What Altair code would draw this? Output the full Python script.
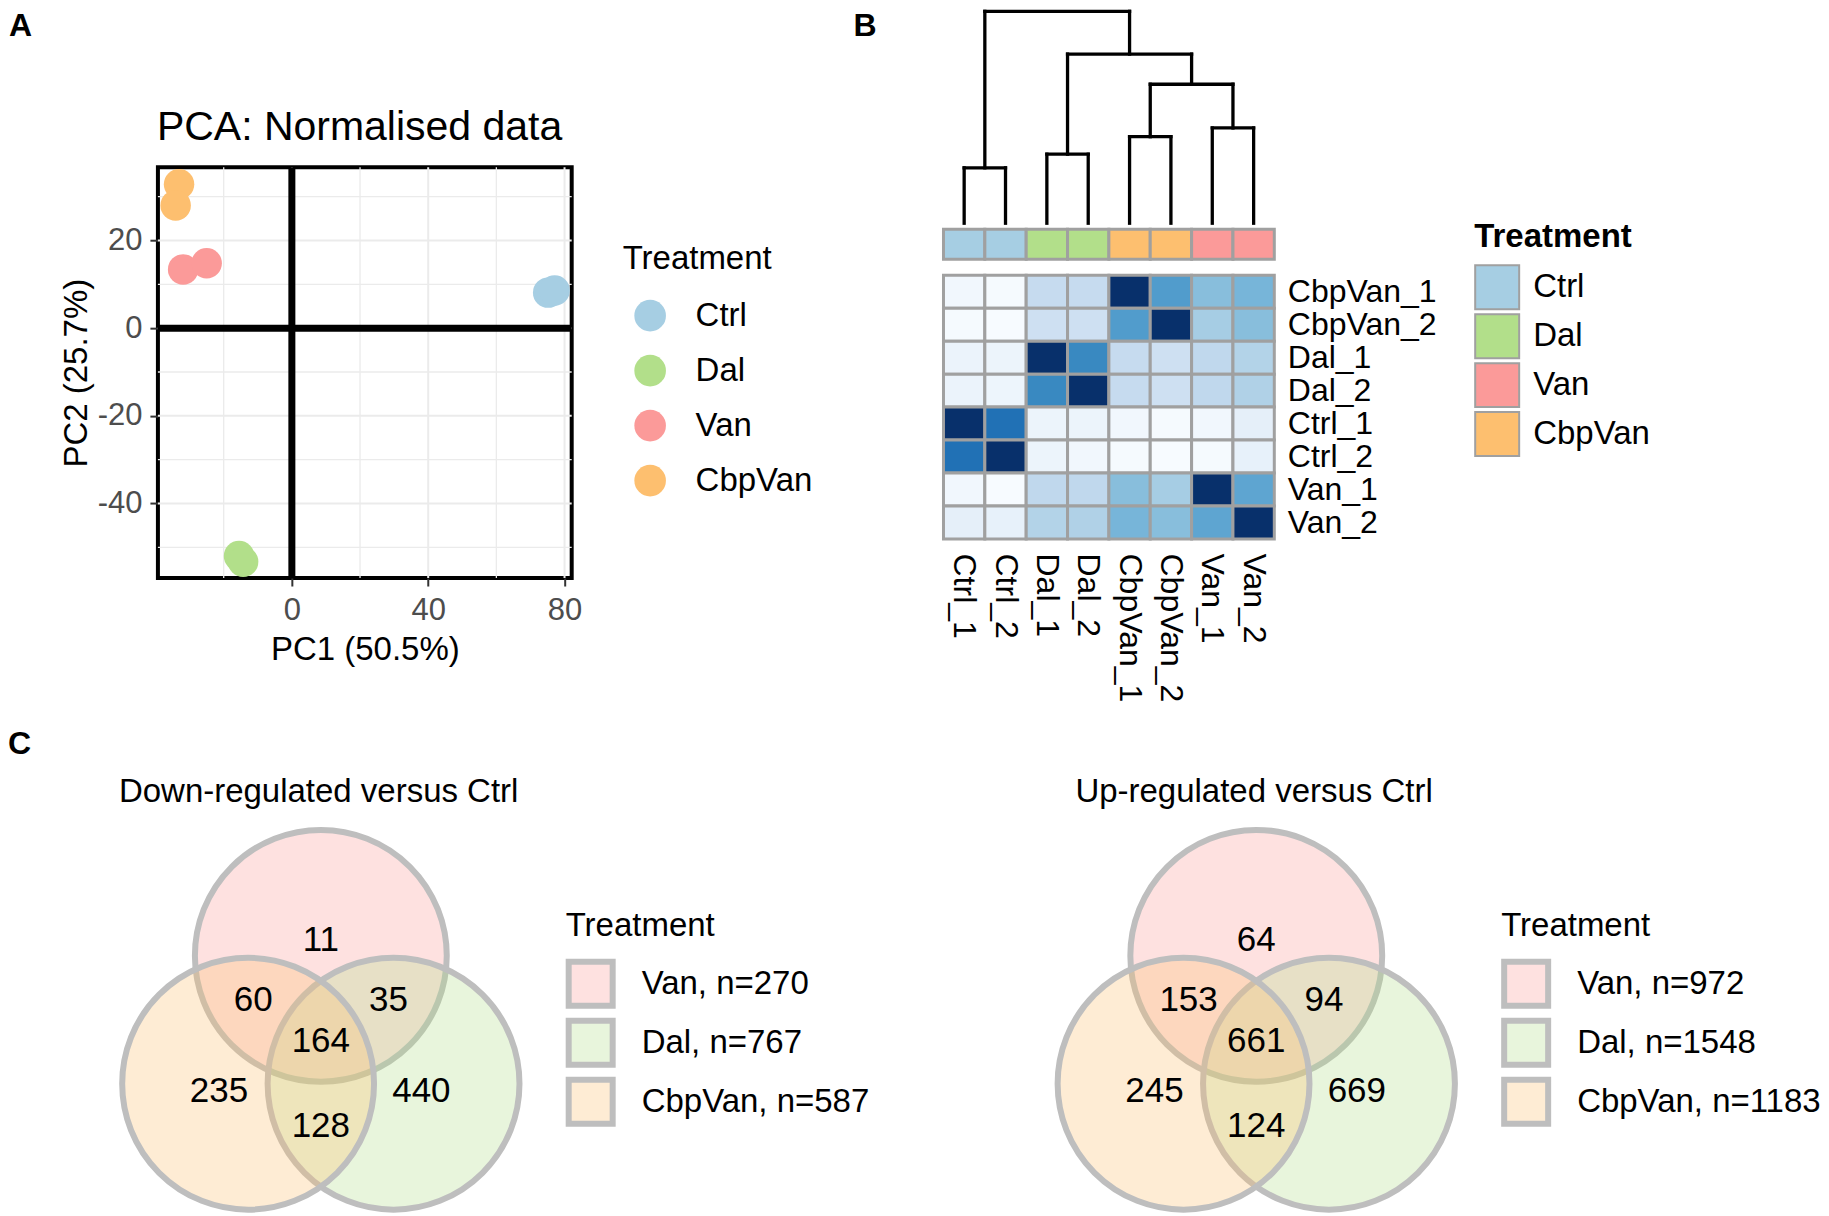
import altair as alt
import pandas as pd

FONT = "Liberation Sans, Arial, Helvetica, sans-serif"

# ------------------------------------------------------------------ data
treatments = ["Ctrl", "Dal", "Van", "CbpVan"]
treatment_colors = ["#A6CEE3", "#B2DF8A", "#FB9A99", "#FDBF6F"]

# Panel A : PCA scores
pca_samples = ["Ctrl_1", "Ctrl_2", "Dal_1", "Dal_2", "Van_1", "Van_2", "CbpVan_1", "CbpVan_2"]
pca_treatment = ["Ctrl", "Ctrl", "Dal", "Dal", "Van", "Van", "CbpVan", "CbpVan"]
pc1_scores = [75.2, 77.1, -15.5, -14.3, -31.9, -25.0, -33.1, -34.1]
pc2_scores = [8.1, 8.6, -52.0, -53.3, 13.4, 14.8, 32.8, 28.0]
pc1_ticks = [0, 40, 80]
pc2_ticks = [-40, -20, 0, 20]
pc1_minor = [-20, 20, 60]
pc2_minor = [-50, -30, -10, 10, 30]
origin = [0]

# Panel B : sample-sample similarity heatmap
hm_columns = ["Ctrl_1", "Ctrl_2", "Dal_1", "Dal_2", "CbpVan_1", "CbpVan_2", "Van_1", "Van_2"]
hm_column_treatment = ["Ctrl", "Ctrl", "Dal", "Dal", "CbpVan", "CbpVan", "Van", "Van"]
hm_rows = ["CbpVan_1", "CbpVan_2", "Dal_1", "Dal_2", "Ctrl_1", "Ctrl_2", "Van_1", "Van_2"]
hm_similarity = [
    [0.03, 0.01, 0.25, 0.25, 1.00, 0.58, 0.43, 0.47],
    [0.01, 0.00, 0.21, 0.21, 0.58, 1.00, 0.35, 0.43],
    [0.06, 0.055, 1.00, 0.66, 0.25, 0.21, 0.27, 0.31],
    [0.06, 0.05, 0.66, 1.00, 0.25, 0.21, 0.27, 0.32],
    [1.00, 0.75, 0.055, 0.055, 0.03, 0.01, 0.03, 0.09],
    [0.75, 1.00, 0.055, 0.03, 0.01, 0.00, 0.01, 0.08],
    [0.03, 0.00, 0.27, 0.27, 0.43, 0.35, 1.00, 0.54],
    [0.09, 0.08, 0.31, 0.32, 0.47, 0.43, 0.54, 1.00],
]
# hclust-style merges (negative = leaf index in hm_columns, 1-based; positive = earlier merge)
dendro_merges = [(-1, -2), (-3, -4), (-5, -6), (-7, -8), (3, 4), (2, 5), (1, 6)]
dendro_heights = [0.57, 0.71, 0.89, 0.98, 1.43, 1.74, 2.18]

# Panel C : Venn region counts
venn_sets = ["Van", "Dal", "CbpVan"]
venn_set_colors = ["#FB9A994D", "#B2DF8A4D", "#FDBF6F4D"]   # set colours at 30 % alpha
venn_regions = [("Van",), ("Van", "CbpVan"), ("Van", "Dal"), ("Van", "Dal", "CbpVan"),
                ("CbpVan",), ("Dal",), ("Dal", "CbpVan")]
down_counts = [11, 60, 35, 164, 235, 440, 128]
up_counts = [64, 153, 94, 661, 245, 669, 124]

# ------------------------------------------------------------------ layout template for a 3-set Venn
VENN_CENTER = {"Van": (0.0, 0.661), "Dal": (0.564, -0.331), "CbpVan": (-0.564, -0.331)}
VENN_LABEL = {("Van",): (0.0, 0.785), ("Van", "CbpVan"): (-0.525, 0.32), ("Van", "Dal"): (0.525, 0.32),
              ("Van", "Dal", "CbpVan"): (0.0, 0.0), ("CbpVan",): (-0.79, -0.39), ("Dal",): (0.78, -0.39),
              ("Dal", "CbpVan"): (0.0, -0.655)}
VENN_PX = 129.0
VENN_YDOM = [-1.331, 1.661]


def spacer(w, h):
    return alt.Chart(pd.DataFrame({"s": [0]})).mark_point(opacity=0, size=1).encode(
        x=alt.value(0), y=alt.value(0)).properties(width=w, height=h)


def letter(t, x, y):
    return alt.Chart(pd.DataFrame({"t": [t]})).mark_text(
        font=FONT, fontSize=32, fontWeight="bold", align="left", baseline="top", color="black"
    ).encode(text="t:N", x=alt.value(x), y=alt.value(y))


# ------------------------------------------------------------------ Panel A
xs = alt.Scale(domain=[-39.3, 82.1], nice=False, zero=False)
ys = alt.Scale(domain=[-57.0, 36.7], nice=False, zero=False)
axis_common = dict(domain=False, grid=False, ticks=True, tickSize=8, tickWidth=2, tickColor="#333333",
                   labelColor="#4D4D4D", labelFont=FONT, labelFontSize=31, titleFont=FONT,
                   titleFontSize=33, titleFontWeight="normal", titleColor="black",
                   labelExpr="'' + datum.value")
ax_x = alt.Axis(values=pc1_ticks, labelPadding=10, title="PC1 (50.5%)", titlePadding=8, **axis_common)
ax_y = alt.Axis(values=pc2_ticks, labelPadding=8, title="PC2 (25.7%)", titlePadding=4, **axis_common)


def enc_x(f):
    return alt.X(f, type="quantitative", scale=xs, axis=ax_x)


def enc_y(f):
    return alt.Y(f, type="quantitative", scale=ys, axis=ax_y)


def vrules(vals, color, width):
    return alt.Chart(pd.DataFrame({"pc1": vals})).mark_rule(color=color, strokeWidth=width).encode(x=enc_x("pc1"))


def hrules(vals, color, width):
    return alt.Chart(pd.DataFrame({"pc2": vals})).mark_rule(color=color, strokeWidth=width).encode(y=enc_y("pc2"))


pca_df = pd.DataFrame({"sample": pca_samples, "treatment": pca_treatment, "pc1": pc1_scores, "pc2": pc2_scores})
pca_points = alt.Chart(pca_df).mark_circle(size=930, opacity=1).encode(
    x=enc_x("pc1"), y=enc_y("pc2"),
    color=alt.Color("treatment:N", scale=alt.Scale(domain=treatments, range=treatment_colors),
                    legend=alt.Legend(title="Treatment", orient="none", legendX=465, legendY=76, padding=0,
                                      titleFont=FONT, titleFontSize=33, titleFontWeight="normal",
                                      titleColor="black", labelFont=FONT, labelFontSize=33,
                                      labelColor="black", symbolType="circle", symbolSize=1000,
                                      symbolStrokeWidth=0, rowPadding=21, titlePadding=23,
                                      symbolOffset=11, labelOffset=29, labelLimit=400)))

pca = alt.layer(
    vrules(pc1_minor, "#EBEBEB", 1.3), vrules(pc1_ticks, "#EBEBEB", 2),
    hrules(pc2_minor, "#EBEBEB", 1.3), hrules(pc2_ticks, "#EBEBEB", 2),
    vrules(origin, "black", 7), hrules(origin, "black", 7),
    pca_points,
).properties(
    width=414, height=411,
    title=alt.TitleParams("PCA: Normalised data", anchor="start", frame="group", font=FONT, fontSize=41,
                          fontWeight="normal", color="black", offset=15, dx=-1),
    view=alt.ViewBackground(stroke="black", strokeWidth=4),
)

# ------------------------------------------------------------------ Panel B
HM_W = 331
blues9 = ["#f7fbff", "#deebf7", "#c6dbef", "#9ecae1", "#6baed6", "#4292c6", "#2171b5", "#08519c", "#08306b"]
blue_stops = [i / 8 for i in range(9)]

hm_records = [{"row": r, "col": c, "value": hm_similarity[i][j]}
              for i, r in enumerate(hm_rows) for j, c in enumerate(hm_columns)]
col_scale = alt.Scale(domain=hm_columns, paddingInner=0, paddingOuter=0)
heat = alt.Chart(pd.DataFrame(hm_records)).mark_rect(stroke="#A0A0A0", strokeWidth=3).encode(
    x=alt.X("col:N", scale=col_scale,
            axis=alt.Axis(orient="bottom", title=None, labelAngle=90, labelAlign="left", labelBaseline="middle",
                          labelFont=FONT, labelFontSize=32, labelColor="black", labelPadding=14,
                          ticks=False, domain=False, labelLimit=400)),
    y=alt.Y("row:N", scale=alt.Scale(domain=hm_rows, paddingInner=0, paddingOuter=0),
            axis=alt.Axis(orient="right", title=None, labelFont=FONT, labelFontSize=32, labelColor="black",
                          labelPadding=13, ticks=False, domain=False, labelLimit=400)),
    color=alt.Color("value:Q", scale=alt.Scale(domain=blue_stops, range=blues9, interpolate="rgb"), legend=None),
).properties(width=HM_W, height=264)

bar = alt.Chart(pd.DataFrame({"col": hm_columns, "treatment": hm_column_treatment})).mark_rect(
    stroke="#A0A0A0", strokeWidth=3).encode(
    x=alt.X("col:N", scale=col_scale, axis=None),
    color=alt.Color("treatment:N", scale=alt.Scale(domain=treatments, range=treatment_colors),
                    legend=alt.Legend(title="Treatment", orient="none", legendX=531, legendY=-8, padding=0,
                                      titleFont=FONT, titleFontSize=33, titleFontWeight="bold",
                                      titleColor="black", labelFont=FONT, labelFontSize=33, labelColor="black",
                                      symbolType="square", symbolSize=44 * 44, symbolStrokeColor="#A0A0A0",
                                      symbolStrokeWidth=2, rowPadding=-5, titlePadding=10, labelOffset=13,
                                      labelLimit=400)),
).properties(width=HM_W, height=30)

# dendrogram segments from the merge table
node_pos = {}


def ref_pos(ref):
    if ref < 0:
        return (-ref - 0.5, 0.0)
    return node_pos[ref]


segs = []
for k, ((a, b), h) in enumerate(zip(dendro_merges, dendro_heights), start=1):
    xa, ha = ref_pos(a)
    xb, hb = ref_pos(b)
    segs += [(xa, ha, xa, h), (xb, hb, xb, h), (xa, h, xb, h)]
    node_pos[k] = ((xa + xb) / 2, h)
seg_df = pd.DataFrame(segs, columns=["x0", "y0", "x1", "y1"])
dendro = alt.Chart(seg_df).mark_rule(color="black", strokeWidth=3.3, strokeCap="square").encode(
    x=alt.X("x0:Q", scale=alt.Scale(domain=[0, len(hm_columns)], nice=False, zero=False), axis=None),
    x2="x1:Q",
    y=alt.Y("y0:Q", scale=alt.Scale(domain=[0, max(dendro_heights)], nice=False, zero=True), axis=None),
    y2="y1:Q",
).properties(width=HM_W, height=212)


# ------------------------------------------------------------------ Panel C
def venn_chart(counts, title, width, x_min, title_dx, legend_x):
    sizes = {s: sum(c for reg, c in zip(venn_regions, counts) if s in reg) for s in venn_sets}
    labels = [f"{s}, n={sizes[s]}" for s in venn_sets]
    circ = pd.DataFrame({"set": labels,
                         "cx": [VENN_CENTER[s][0] for s in venn_sets],
                         "cy": [VENN_CENTER[s][1] for s in venn_sets]})
    reg = pd.DataFrame({"count": counts,
                        "lx": [VENN_LABEL[r][0] for r in venn_regions],
                        "ly": [VENN_LABEL[r][1] for r in venn_regions]})
    xsc = alt.Scale(domain=[x_min, x_min + width / VENN_PX], nice=False, zero=False)
    ysc = alt.Scale(domain=VENN_YDOM, nice=False, zero=False)
    diam = 2 * VENN_PX - 6
    circles = alt.Chart(circ).mark_circle(size=diam * diam, opacity=1, fillOpacity=1,
                                          stroke="#BEBEBE", strokeWidth=6).encode(
        x=alt.X("cx:Q", scale=xsc, axis=None),
        y=alt.Y("cy:Q", scale=ysc, axis=None),
        color=alt.Color("set:N", scale=alt.Scale(domain=labels, range=venn_set_colors),
                        legend=alt.Legend(title="Treatment", orient="none", legendX=legend_x, legendY=83,
                                          padding=0, titleFont=FONT, titleFontSize=33,
                                          titleFontWeight="normal", titleColor="black", labelFont=FONT,
                                          labelFontSize=33, labelColor="black", symbolType="square",
                                          symbolSize=44 * 44, symbolStrokeColor="#BEBEBE", symbolStrokeWidth=6,
                                          rowPadding=-12, titlePadding=16, labelOffset=26, labelLimit=500)),
    )
    nums = alt.Chart(reg).mark_text(font=FONT, fontSize=35, color="black", align="center",
                                    baseline="middle").encode(
        x=alt.X("lx:Q", scale=xsc, axis=None), y=alt.Y("ly:Q", scale=ysc, axis=None), text="count:Q")
    return alt.layer(circles, nums).properties(
        width=width, height=386,
        title=alt.TitleParams(title, anchor="start", frame="group", font=FONT, fontSize=33,
                              fontWeight="normal", color="black", offset=9, dx=title_dx))


venn_down = venn_chart(down_counts, "Down-regulated versus Ctrl", 326, -1.2636, -39, 408)
venn_up = venn_chart(up_counts, "Up-regulated versus Ctrl", 476, -2.426, 132, 558)

# ------------------------------------------------------------------ assembly
letters_top = alt.layer(letter("A", -149, 0), letter("B", 696, 0)).properties(width=414, height=156)
letter_c = letter("C", -150, 151).properties(width=326, height=249)

col1 = alt.vconcat(letters_top, pca, letter_c, venn_down, spacing=0, bounds="flush").resolve_scale(
    color="independent").resolve_legend(color="independent")
col2 = alt.vconcat(dendro, spacer(HM_W, 6), bar, spacer(HM_W, 16), heat, spacer(HM_W, 288), venn_up,
                   spacing=0, bounds="flush").resolve_scale(color="independent").resolve_legend(color="independent")

chart = alt.hconcat(col1, col2, spacing=64).resolve_scale(color="independent").resolve_legend(
    color="independent").properties(padding=0).configure(font=FONT).configure_view(stroke=None)

chart.save("out.html", embed_options={"renderer": "svg", "actions": False})
